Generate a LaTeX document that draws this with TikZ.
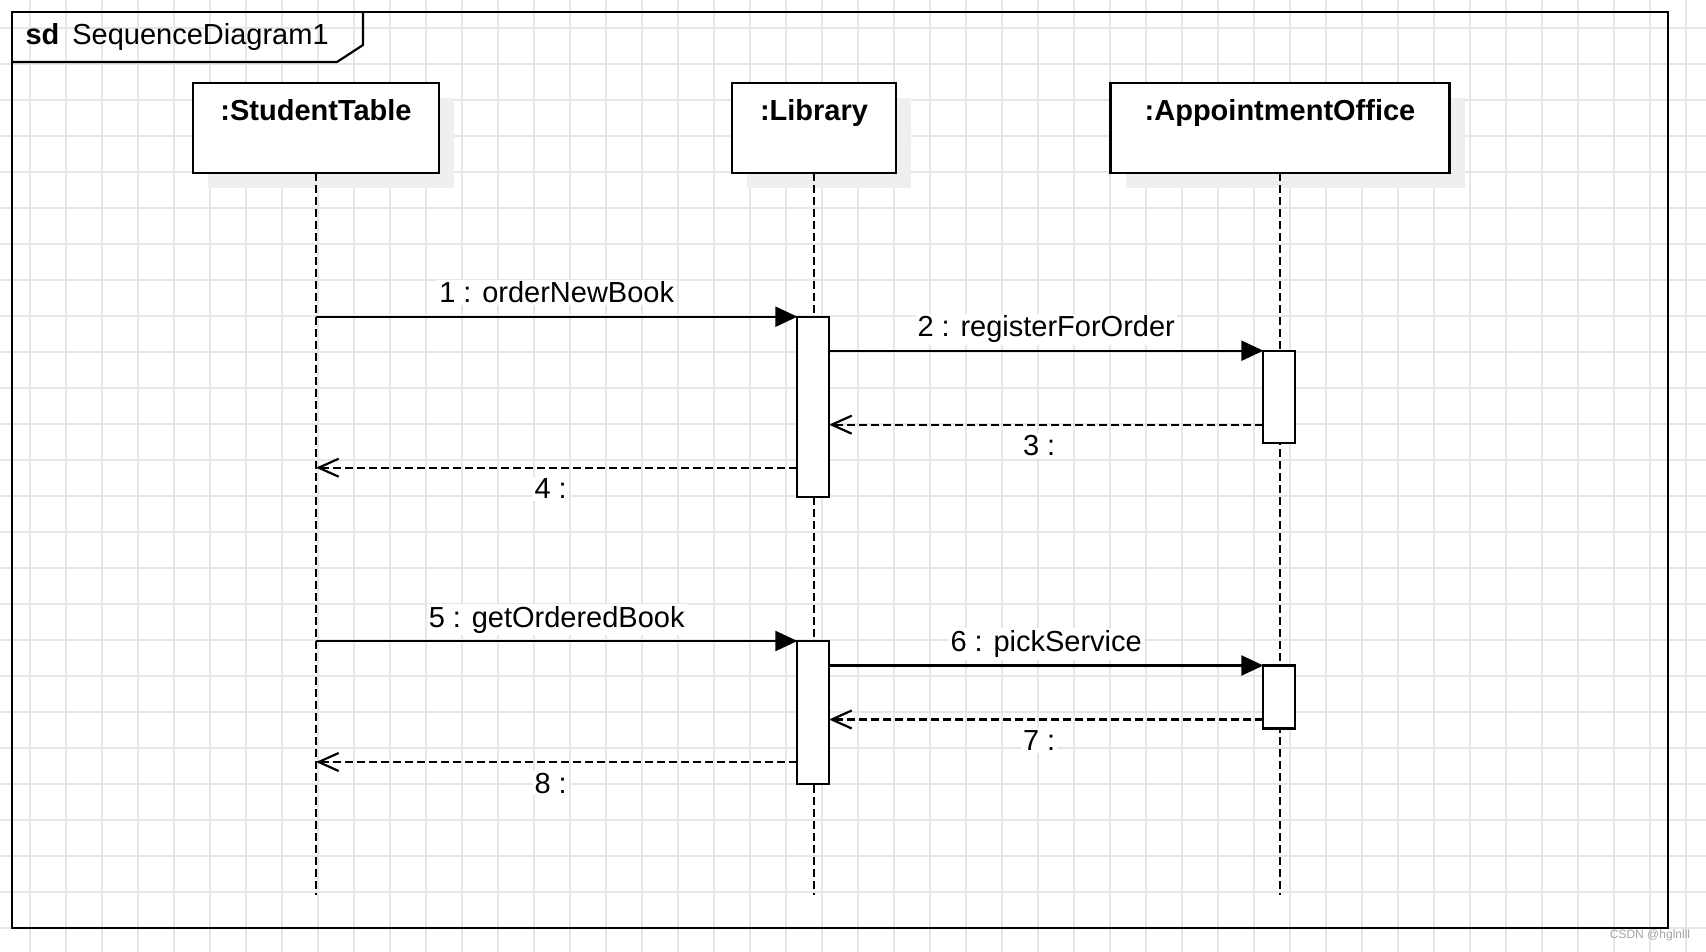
\documentclass[tikz,border=0pt]{standalone}
\usepackage{fontspec}
\setmainfont{Liberation Sans}
\usetikzlibrary{calc,arrows.meta,shadows}
\definecolor{gridline}{HTML}{E6E6E6}
\definecolor{shade}{HTML}{EFEFEF}
\definecolor{stamp}{HTML}{A3A3A3}
\tikzset{
  gridrule/.style={draw=gridline, line width=1.6pt},
  outline/.style={draw=black, line width=2.2pt},
  lifebox/.style={outline, fill=white, inner sep=0pt, outer sep=0pt,
    drop shadow={shadow xshift=15pt, shadow yshift=-15pt, fill=shade, opacity=1}},
  boxname/.style={font=\fontsize{29}{35}\selectfont\bfseries, anchor=base},
  lifeline/.style={draw=black, line width=2.2pt, dash pattern=on 8pt off 4pt},
  actbar/.style={outline, fill=white, inner sep=0pt, outer sep=0pt, minimum width=31.7pt},
  call/.style={draw=black, line width=2.2pt, -{Triangle[length=22pt, width=20pt]}},
  reply/.style={draw=black, line width=2.2pt, dash pattern=on 8pt off 4pt,
    -{Straight Barb[length=20pt, width=18pt]}},
  msglab/.style={font=\fontsize{29}{35}\selectfont, fill=white, inner sep=2pt, anchor=base},
}

\begin{document}
\begin{tikzpicture}[x=1pt, y=-1pt]
\useasboundingbox (0,0) rectangle (1706,952);
\fill[white] (0,0) rectangle (1706,952);
% background grid
\foreach \gx in {30,66,...,1706}
  \draw[gridrule] (\gx,0) -- (\gx,952);
\foreach \gy in {28,64,...,952}
  \draw[gridrule] (0,\gy) -- (1706,\gy);

% frame with its tab
\draw[outline] (12,12) rectangle (1668,928);
\draw[outline] (12,62) -- (337,62) -- (363,45) -- (363,12);
\node[font=\fontsize{29}{35}\selectfont, anchor=base west] (title) at (22,45)
  {\textbf{sd}\hspace{13pt}SequenceDiagram1};

% lifeline heads
\node[lifebox, minimum width=246pt, minimum height=90pt] (st) at (316,128) {};
\node[lifebox, minimum width=164pt, minimum height=90pt] (lib) at (814,128) {};
\node[lifebox, minimum width=339pt, minimum height=90pt] (ao) at (1280,128) {};
\node[boxname] (stname) at ($(st.north)+(0,38)$) {:StudentTable};
\node[boxname] (libname) at ($(lib.north)+(0,38)$) {:Library};
\node[boxname] (aoname) at ($(ao.north)+(0,38)$) {:AppointmentOffice};

\foreach \who in {st,lib,ao}
  \draw[lifeline] (\who.south) -- (\who.south |- 0,895);

% activations
\node[actbar, minimum height=180pt] (la1) at (813.2,406.7) {};
\node[actbar, minimum height=92pt] (aa1) at (1279.2,396.7) {};
\node[actbar, minimum height=143pt] (la2) at (813.2,712.5) {};
\node[actbar, minimum height=63pt] (aa2) at (1279.2,697) {};

\coordinate (r3) at ([yshift=18pt]aa1.south west);
\coordinate (r4) at ([yshift=29pt]la1.south west);
\coordinate (r7) at ([yshift=9pt]aa2.south west);
\coordinate (r8) at ([yshift=22pt]la2.south west);

% messages
\draw[call] (st.south |- la1.north west) -- node[msglab, yshift=14pt] (m1) {1 : orderNewBook} (la1.north west);
\draw[call] (la1.east |- aa1.north) -- node[msglab, yshift=14pt] (m2) {2 : registerForOrder} (aa1.north west);
\draw[reply] (r3) -- node[msglab, yshift=-31pt, xshift=-7pt] (m3) {3 :} (la1.east |- r3);
\draw[reply] (r4) -- node[msglab, yshift=-31pt, xshift=-6pt] (m4) {4 :} (st.south |- r4);
\draw[call] (st.south |- la2.north west) -- node[msglab, yshift=14pt] (m5) {5 : getOrderedBook} (la2.north west);
\draw[call] (la2.east |- aa2.north) -- node[msglab, yshift=14pt] (m6) {6 : pickService} (aa2.north west);
\draw[reply] (r7) -- node[msglab, yshift=-31pt, xshift=-7pt] (m7) {7 :} (la2.east |- r7);
\draw[reply] (r8) -- node[msglab, yshift=-31pt, xshift=-6pt] (m8) {8 :} (st.south |- r8);

\node[font=\fontsize{12}{14}\selectfont, text=stamp] (csdn) at (1650,935) {CSDN @hglnlll};
\end{tikzpicture}
\end{document}
